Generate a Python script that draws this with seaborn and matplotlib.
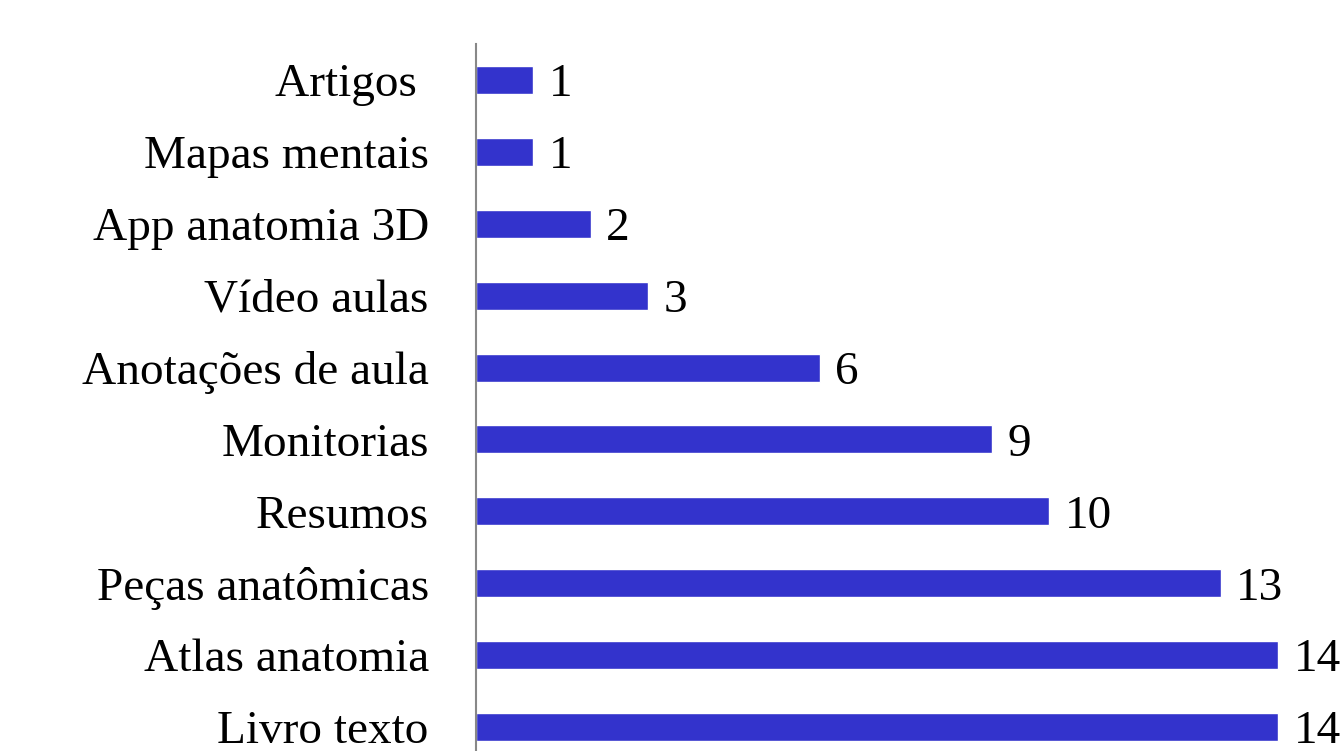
import pandas as pd
import matplotlib
matplotlib.use("Agg")
import matplotlib.pyplot as plt
import seaborn as sns

# data
categories = ["Artigos ", "Mapas mentais", "App anatomia 3D", "Vídeo aulas",
              "Anotações de aula", "Monitorias", "Resumos",
              "Peças anatômicas", "Atlas anatomia", "Livro texto"]
counts = [1, 1, 2, 3, 6, 9, 10, 13, 14, 14]

df = pd.DataFrame({"Categoria": categories, "Quantidade": counts})

sns.set_theme(style="white")
plt.rcParams['font.family'] = ['Liberation Serif', 'DejaVu Serif']

W, H = 1342, 751
fig = plt.figure(figsize=(W / 100, H / 100), dpi=100)
ax = fig.add_axes([476 / W, -12 / H, 866 / W, 719 / H])

sns.barplot(data=df, y="Categoria", x="Quantidade", color="#3333CC",
            saturation=1, width=0.39, orient="h", ax=ax)

ax.set_xlim(0, 866 / 57.3)
ax.set_ylim(9.5, -0.5)

for i, v in enumerate(counts):
    ax.text(v + 0.27, i, str(v), va="center_baseline", ha="left", fontsize=34,
            color="black", clip_on=False)

ax.set_xlabel("")
ax.set_ylabel("")
ax.set_xticks([])
ax.tick_params(axis="y", length=0, pad=34, labelsize=34, labelcolor="black")
for lbl in ax.get_yticklabels():
    lbl.set_verticalalignment("center_baseline")
for s in ["top", "right", "bottom"]:
    ax.spines[s].set_visible(False)
ax.spines["left"].set_color("#888888")
ax.spines["left"].set_linewidth(1.5)

fig.savefig("out.png", dpi=100)
